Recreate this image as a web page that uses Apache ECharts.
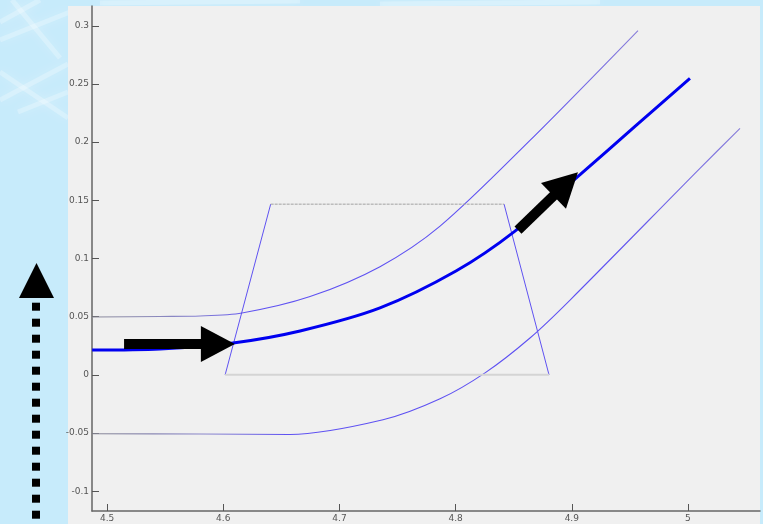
<!DOCTYPE html>
<html>
<head>
<meta charset="utf-8">
<script src="https://cdn.jsdelivr.net/npm/echarts@6/dist/echarts.min.js"></script>
<style>
  html, body { margin: 0; padding: 0; background: #c7ebfb; }
  #chart { width: 763px; height: 524px; }
</style>
</head>
<body>
<div id="chart"></div>
<script>
// Tick positions
const xTickValues = [4.5, 4.6, 4.7, 4.8, 4.9, 5];
const yTickValues = [-0.1, -0.05, 0, 0.05, 0.1, 0.15, 0.2, 0.25, 0.3];

// Centre path (thick)
const centerX = [4.4871, 4.5456, 4.6084, 4.6661, 4.7349, 4.8003, 4.8511, 4.9071, 4.9544, 5.0017];
const centerY = [0.0214, 0.0223, 0.0274, 0.0377, 0.0575, 0.0892, 0.1235, 0.1720, 0.2135, 0.2547];

// Upper boundary
const upperX = [4.4871, 4.5456, 4.5800, 4.6161, 4.6747, 4.7349, 4.7866, 4.8640, 4.9570];
const upperY = [0.0497, 0.0502, 0.0506, 0.0532, 0.0673, 0.0930, 0.1278, 0.2015, 0.2959];

// Lower boundary
const lowerX = [4.4871, 4.5800, 4.6575, 4.7375, 4.7866, 4.8253, 4.8640, 4.8985, 5.0103, 5.0448];
const lowerY = [-0.0506, -0.0508, -0.0512, -0.0386, -0.0206, 0.0017, 0.0317, 0.0643, 0.1775, 0.2118];

// Trapezoid corners: bottom-left, top-left, top-right, bottom-right
const trapX = [4.6016, 4.6408, 4.8417, 4.8804];
const trapY = [0, 0.1467, 0.1467, 0];

// Direction arrows: tail -> tip
const arrowTailX = [4.5146, 4.8537];
const arrowTailY = [0.0266, 0.1244];
const arrowTipX = [4.610, 4.9053];
const arrowTipY = [0.0266, 0.1741];

const pairs = (xs, ys) => xs.map((x, i) => [x, ys[i]]);
const arrows = arrowTailX.map((x, i) => [x, arrowTailY[i], arrowTipX[i], arrowTipY[i]]);

const thinBlue = '#5f52f2';
const fadedThin = {
  type: 'linear', x: 0, y: 0, x2: 1, y2: 0,
  colorStops: [
    { offset: 0, color: '#8c8c98' },
    { offset: 0.18, color: '#8a86cc' },
    { offset: 0.3, color: thinBlue },
    { offset: 0.8, color: thinBlue },
    { offset: 1, color: '#8a80d8' }
  ]
};

function curve(data, color, width, z) {
  return {
    type: 'line', data: data, showSymbol: false, smooth: 0.3,
    silent: true, z: z || 3,
    lineStyle: { color: color, width: width }
  };
}

function segment(a, b, style) {
  return { type: 'line', data: [a, b], showSymbol: false, silent: true, lineStyle: style };
}

// Dotted vertical arrow to the left of the plot
const dotted = [];
for (let k = 0; k < 14; k++) {
  dotted.push({ type: 'rect', shape: { x: 32, y: 302.7 + 16 * k, width: 8, height: 8 }, style: { fill: '#000' } });
}

// Soft light streaks across the backdrop
const streaks = [
  [[0, 40], [70, 12]], [[0, 72], [68, 118]], [[12, 0], [60, 58]], [[0, 100], [68, 64]],
  [[100, 3], [300, 1]], [[380, 4], [600, 2]], [[0, 22], [40, 0]], [[18, 112], [68, 92]]
].map(p => ({
  type: 'line', shape: { x1: p[0][0], y1: p[0][1], x2: p[1][0], y2: p[1][1] },
  style: { stroke: 'rgba(255,255,255,0.25)', lineWidth: 5, shadowBlur: 12, shadowColor: 'rgba(255,255,255,0.9)' }, z: -10
}));

const chart = echarts.init(document.getElementById('chart'));
chart.setOption({
  animation: false,
  backgroundColor: '#c7ebfb',
  graphic: [
    ...streaks,
    { type: 'rect', shape: { x: 68, y: 6, width: 692, height: 518 }, style: { fill: '#f0f0f0' }, z: -5 },
    { type: 'polygon', shape: { points: [[19, 298], [54, 298], [36.5, 263]] }, style: { fill: '#000' } },
    ...dotted
  ],
  grid: { left: 92, top: 6, right: 3, bottom: 13 },
  xAxis: {
    type: 'value', min: 4.487, max: 5.062,
    axisLine: { show: true, onZero: false, lineStyle: { color: '#666', width: 1.5 } },
    axisTick: { show: true, inside: true, length: 7, customValues: xTickValues, lineStyle: { color: '#555' } },
    axisLabel: { customValues: xTickValues, color: '#555', fontSize: 9, margin: 3, fontFamily: 'DejaVu Sans' },
    splitLine: { show: false }
  },
  yAxis: {
    type: 'value', min: -0.117, max: 0.317,
    axisLine: { show: true, onZero: false, lineStyle: { color: '#666', width: 1.5 } },
    axisTick: { show: true, inside: true, length: 7, customValues: yTickValues, lineStyle: { color: '#555' } },
    axisLabel: { customValues: yTickValues, color: '#555', fontSize: 9, margin: 3, fontFamily: 'DejaVu Sans' },
    splitLine: { show: false }
  },
  series: [
    curve(pairs(upperX, upperY), fadedThin, 1.1),
    curve(pairs(lowerX, lowerY), fadedThin, 1.1),
    // trapezoid: blue slanted sides, grey top and bottom edges
    segment([trapX[0], trapY[0]], [trapX[1], trapY[1]], { color: thinBlue, width: 1 }),
    segment([trapX[2], trapY[2]], [trapX[3], trapY[3]], { color: thinBlue, width: 1 }),
    segment([trapX[1], trapY[1]], [trapX[2], trapY[2]], { color: '#a2a2a2', width: 1, type: [3, 1] }),
    segment([trapX[0], trapY[0]], [trapX[3], trapY[3]], { color: '#d4d4d4', width: 2 }),
    curve(pairs(centerX, centerY), '#0000f0', 3, 4),
    {
      type: 'custom', data: arrows, z: 10, silent: true,
      encode: { x: [0, 2], y: [1, 3] },
      renderItem: function (params, api) {
        const p0 = api.coord([api.value(0), api.value(1)]);
        const p1 = api.coord([api.value(2), api.value(3)]);
        const dx = p1[0] - p0[0], dy = p1[1] - p0[1];
        const len = Math.sqrt(dx * dx + dy * dy);
        const ux = dx / len, uy = dy / len, nx = -uy, ny = ux;
        const headLen = 34, headHalf = 18, shaftHalf = 5;
        const bx = p1[0] - ux * headLen, by = p1[1] - uy * headLen;
        return {
          type: 'group',
          children: [
            { type: 'polygon', shape: { points: [
              [p0[0] + nx * shaftHalf, p0[1] + ny * shaftHalf],
              [bx + nx * shaftHalf + ux, by + ny * shaftHalf + uy],
              [bx - nx * shaftHalf + ux, by - ny * shaftHalf + uy],
              [p0[0] - nx * shaftHalf, p0[1] - ny * shaftHalf]
            ] }, style: { fill: '#000' } },
            { type: 'polygon', shape: { points: [
              [p1[0], p1[1]],
              [bx + nx * headHalf, by + ny * headHalf],
              [bx - nx * headHalf, by - ny * headHalf]
            ] }, style: { fill: '#000' } }
          ]
        };
      }
    }
  ]
});
</script>
</body>
</html>
